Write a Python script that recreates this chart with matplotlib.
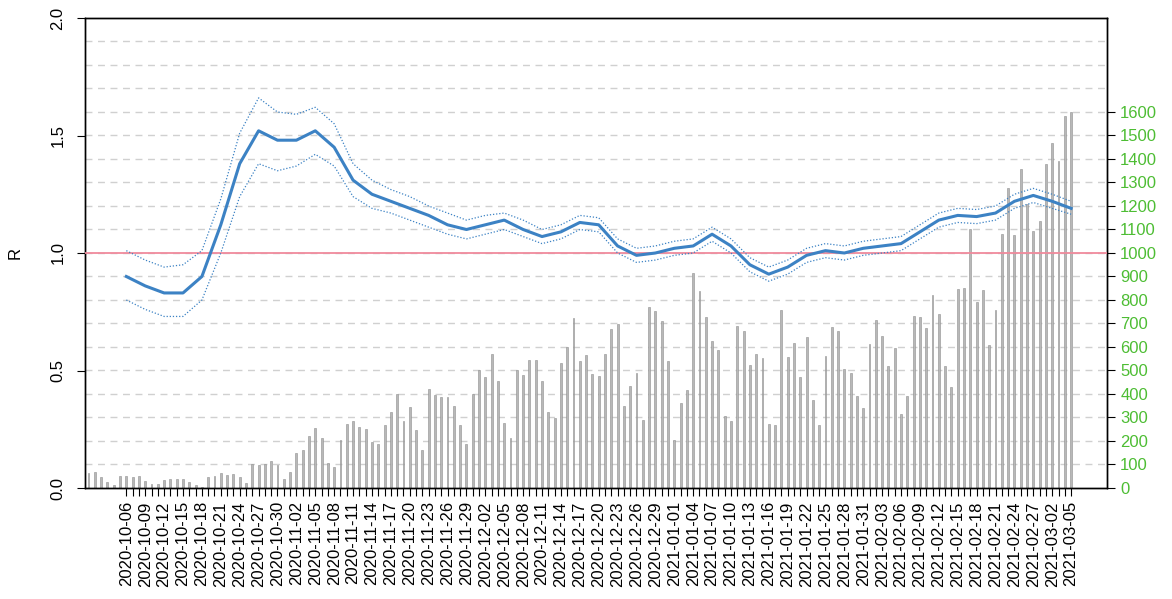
import numpy as np
import pandas as pd
import matplotlib
matplotlib.use("Agg")
import matplotlib.pyplot as plt

plt.rcParams['font.family'] = ['Liberation Sans', 'DejaVu Sans']

#---------------------------------------------------------------------
# casos diarios (barras), um valor por dia a partir de 2020-09-30
#---------------------------------------------------------------------
inicio_casos = "2020-09-30"
casos = [64, 69, 46, 24, 11, 49, 50, 46, 50, 31,
         16, 19, 33, 37, 37, 37, 27, 14, 6, 46,
         50, 64, 54, 59, 46, 20, 103, 97, 103, 113,
         97, 40, 68, 149, 163, 220, 257, 211, 108, 90,
         206, 274, 287, 261, 251, 195, 188, 269, 323, 400,
         283, 346, 247, 163, 423, 397, 387, 387, 350, 267,
         186, 399, 502, 471, 569, 457, 278, 213, 502, 481,
         546, 546, 457, 323, 299, 533, 599, 722, 539, 565,
         485, 475, 569, 677, 699, 348, 436, 490, 290, 770,
         752, 712, 539, 204, 360, 417, 913, 837, 726, 624,
         587, 308, 284, 689, 668, 523, 570, 553, 271, 266,
         757, 557, 618, 472, 642, 376, 266, 560, 685, 668,
         506, 490, 391, 341, 614, 713, 648, 520, 595, 315,
         392, 733, 728, 679, 823, 740, 518, 430, 848, 852,
         1101, 791, 843, 607, 759, 1081, 1277, 1077, 1356, 1209,
         1094, 1135, 1379, 1470, 1393, 1584, 1601]

#---------------------------------------------------------------------
# R estimado (media e intervalo), a cada 3 dias a partir de 2020-10-06
#---------------------------------------------------------------------
inicio_r = "2020-10-06"
r_media = [0.90, 0.86, 0.83, 0.83, 0.90, 1.12, 1.38, 1.52, 1.48, 1.48,
           1.52, 1.45, 1.31, 1.25, 1.22, 1.19, 1.16, 1.12, 1.10, 1.12,
           1.14, 1.10, 1.07, 1.09, 1.13, 1.12, 1.03, 0.99, 1.00, 1.02,
           1.03, 1.08, 1.03, 0.95, 0.91, 0.94, 0.99, 1.01, 1.00, 1.02,
           1.03, 1.04, 1.09, 1.14, 1.16, 1.155, 1.17, 1.22, 1.245, 1.22,
           1.19]
r_inf = [0.80, 0.76, 0.73, 0.73, 0.80, 1.00, 1.24, 1.38, 1.35, 1.37,
         1.42, 1.37, 1.24, 1.19, 1.17, 1.14, 1.11, 1.08, 1.06, 1.08,
         1.10, 1.07, 1.04, 1.06, 1.10, 1.09, 1.00, 0.96, 0.97, 0.99,
         1.00, 1.05, 1.00, 0.92, 0.88, 0.91, 0.96, 0.98, 0.97, 0.99,
         1.00, 1.01, 1.06, 1.11, 1.13, 1.125, 1.14, 1.19, 1.215, 1.19,
         1.165]
r_sup = [1.01, 0.97, 0.94, 0.95, 1.01, 1.23, 1.51, 1.66, 1.60, 1.59,
         1.62, 1.55, 1.38, 1.31, 1.27, 1.24, 1.20, 1.17, 1.14, 1.16,
         1.17, 1.14, 1.10, 1.12, 1.16, 1.15, 1.06, 1.02, 1.03, 1.05,
         1.06, 1.11, 1.06, 0.98, 0.94, 0.97, 1.02, 1.04, 1.03, 1.05,
         1.06, 1.07, 1.12, 1.17, 1.19, 1.185, 1.20, 1.25, 1.275, 1.25,
         1.22]

datas_casos = pd.date_range(inicio_casos, periods=len(casos), freq="D")
datas_r = pd.date_range(inicio_r, periods=len(r_media), freq="3D")
x_casos = np.array((datas_casos - datas_casos[0]).days)
x_r = np.array((datas_r - datas_casos[0]).days)

# eixo das datas: um traco por dia, rotulo a cada 3 dias
datas_eixo = pd.date_range(inicio_r, datas_casos[-1], freq="D")
x_eixo = np.array((datas_eixo - datas_casos[0]).days)
rotulos = [d.strftime("%Y-%m-%d") if i % 3 == 0 else "" for i, d in enumerate(datas_eixo)]

fig = plt.figure(figsize=(11.72, 5.99), dpi=100)
ax = fig.add_axes([85/1172, 1 - 488/599, (1107 - 85)/1172, (488 - 18)/599])
ax2 = ax.twinx()

# barras e grade no eixo da direita (casos)
ax2.set_ylim(0, 2000)
for g in range(100, 2000, 100):
    ax2.axhline(g, color="#d0d0d0", lw=1, ls=(0, (5, 4)), zorder=0)
ax2.bar(x_casos, casos, width=0.3, color="#b8b8b8", edgecolor="#8e8e8e", lw=0.4, zorder=2)
ax2.set_yticks(range(0, 1700, 100))
ax2.tick_params(axis="y", colors="black", labelcolor="#4dbd33", labelsize=12, length=6)

# curva do R no eixo da esquerda, por cima das barras
ax.set_zorder(ax2.get_zorder() + 1)
ax.patch.set_visible(False)
ax.axhline(1.0, color="#f08a9c", lw=1.3, zorder=3)
ax.plot(x_r, r_inf, color="#3c82c4", lw=0.9, ls=(0, (1, 1.5)), zorder=4)
ax.plot(x_r, r_sup, color="#3c82c4", lw=0.9, ls=(0, (1, 1.5)), zorder=4)
ax.plot(x_r, r_media, color="#3c82c4", lw=2.2, zorder=5)

ax.set_ylim(0, 2.0)
ax.set_xlim(-0.56, 161.7)
ax.set_yticks([0, 0.5, 1.0, 1.5, 2.0])
ax.set_yticklabels(["0.0", "0.5", "1.0", "1.5", "2.0"], rotation=90, va="center")
ax.set_xticks(x_eixo)
ax.set_xticklabels(rotulos, rotation=90, fontsize=12)
ax.tick_params(axis="y", labelsize=12, length=6, pad=8)
ax.tick_params(axis="x", length=6)

for a in (ax, ax2):
    for s in a.spines.values():
        s.set_linewidth(1.0)

fig.text(15/1172, 1 - 253/599, "R", rotation=90, ha="center", va="center", fontsize=12)

fig.savefig("out.png", dpi=100)
